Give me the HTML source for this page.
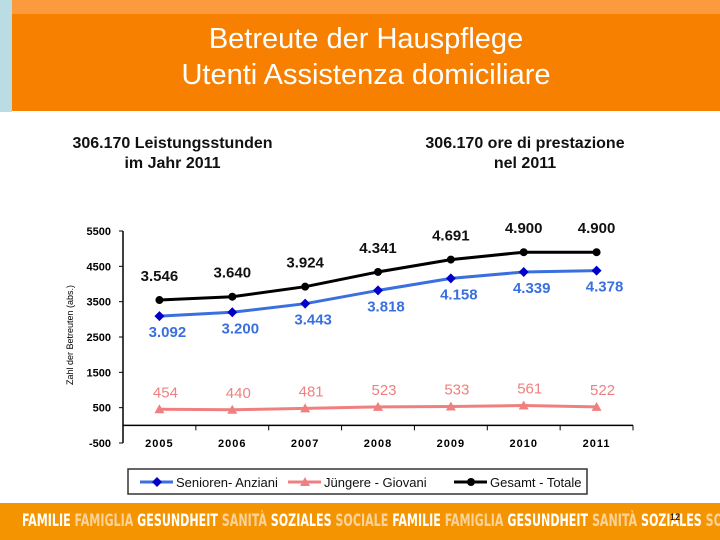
<!DOCTYPE html>
<html><head><meta charset="utf-8"><style>
body{margin:0;width:720px;height:540px;overflow:hidden;background:#fff;font-family:"Liberation Sans",Arial,sans-serif;position:relative}
#side{position:absolute;left:0;top:0;width:12px;height:112px;background:#b9dde2}
#topband{position:absolute;left:12px;top:0;width:708px;height:14px;background:#fb9b3d}
#title{position:absolute;left:12px;top:14px;width:708px;height:97px;background:#f78000;color:#fff;font-size:29px;text-align:center;line-height:36px;padding-top:7px;box-sizing:border-box}
.sub{position:absolute;top:134px;font-size:16px;font-weight:bold;text-align:center;line-height:20px;color:#111}
#footer{position:absolute;left:0;top:503px;width:720px;height:37px;background:#f39400;overflow:hidden}
#ftext{position:absolute;left:22px;top:0;font-family:"DejaVu Sans Condensed","Liberation Sans Narrow",sans-serif;font-weight:bold;font-size:17px;line-height:37px;white-space:nowrap;transform:scaleX(0.725);transform-origin:left center}
#ftext .w{color:#fff}#ftext .l{color:#fbd39a}
</style></head><body>
<div id="side"></div>
<div id="topband"></div>
<div id="title">Betreute der Hauspflege<br>Utenti Assistenza domiciliare</div>
<div class="sub" style="left:50px;width:245px">306.170 Leistungsstunden<br>im Jahr 2011</div>
<div class="sub" style="left:400px;width:250px">306.170 ore di prestazione<br>nel 2011</div>
<svg id="chart" width="720" height="540" style="position:absolute;left:0;top:0"></svg>
<div id="footer"><div id="ftext"><span class="w">FAMILIE</span> <span class="l">FAMIGLIA</span> <span class="w">GESUNDHEIT</span> <span class="l">SANITÀ</span> <span class="w">SOZIALES</span> <span class="l">SOCIALE</span> <span class="w">FAMILIE</span> <span class="l">FAMIGLIA</span> <span class="w">GESUNDHEIT</span> <span class="l">SANITÀ</span> <span class="w">SOZIALES</span> <span class="l">SOCIALE</span></div></div>
<div style="position:absolute;left:670px;top:512px;font-size:9px;color:#000">12</div>
<script>
const years=["2005","2006","2007","2008","2009","2010","2011"];
const senioren=[3092,3200,3443,3818,4158,4339,4378];
const giovani=[454,440,481,523,533,561,522];
const totale=[3546,3640,3924,4341,4691,4900,4900];
const senLabels=["3.092","3.200","3.443","3.818","4.158","4.339","4.378"];
const totLabels=["3.546","3.640","3.924","4.341","4.691","4.900","4.900"];
const yTicks=[5500,4500,3500,2500,1500,500,-500];
const NS="http://www.w3.org/2000/svg";
const svg=document.getElementById('chart');
const x0=123,x1=633,yTop=231,yBot=443,vMin=-500,vMax=5500;
const step=(x1-x0)/years.length;
const X=i=>x0+step*(i+0.5);
const Y=v=>yBot-(v-vMin)/(vMax-vMin)*(yBot-yTop);
function el(t,a){const e=document.createElementNS(NS,t);for(const k in a)e.setAttribute(k,a[k]);svg.appendChild(e);return e;}
function txt(s,x,y,a){const e=el('text',Object.assign({x:x,y:y,'text-anchor':'middle','font-family':'Liberation Sans, Arial, sans-serif'},a));e.textContent=s;return e;}
let ax=el('line',{x1:x0,y1:yTop,x2:x0,y2:yBot,stroke:'#000','stroke-width':1.5});

let xa=el('line',{x1:x0,y1:Y(0),x2:x1,y2:Y(0),stroke:'#000','stroke-width':1.5});

yTicks.forEach(v=>{el('line',{x1:x0-4,y1:Y(v),x2:x0,y2:Y(v),stroke:'#000'});
 let t=txt(String(v),x0-12,Y(v)+4,{'text-anchor':'end','font-size':11,'font-weight':'bold'});
 });
for(let i=1;i<=years.length;i++)el('line',{x1:x0+step*i,y1:Y(0),x2:x0+step*i,y2:Y(0)+5,stroke:'#000'});
years.forEach((yr,i)=>{let t=txt(yr,X(i),447,{'font-size':11,'font-weight':'bold','letter-spacing':'1'});
 });
let yt=txt('Zahl der Betreuten (abs.)',0,0,{'font-size':9,transform:'translate(73,335) rotate(-90)'});

function line(vals,color,name){let d=vals.map((v,i)=>(i?'L':'M')+X(i)+' '+Y(v)).join(' ');
 let p=el('path',{d:d,fill:'none',stroke:color,'stroke-width':3});
 }
line(totale,'#000','line-totale');line(senioren,'#3a6fdf','line-senioren');line(giovani,'#f08080','line-giovani');
totale.forEach((v,i)=>{let c=el('circle',{cx:X(i),cy:Y(v),r:4,fill:'#000'});
 
 let t=txt(totLabels[i],X(i),Y(v)-19,{'font-size':15,'font-weight':'bold',fill:'#111'});
 });
senioren.forEach((v,i)=>{let x=X(i),y=Y(v);let p=el('polygon',{points:`${x},${y-5} ${x+5},${y} ${x},${y+5} ${x-5},${y}`,fill:'#0000c8'});
 
 let t=txt(senLabels[i],x+8,y+21,{'font-size':15,'font-weight':'bold',fill:'#3a6fdf'});
 });
giovani.forEach((v,i)=>{let x=X(i),y=Y(v);let p=el('polygon',{points:`${x},${y-5} ${x+5},${y+4} ${x-5},${y+4}`,fill:'#f08080'});
 
 let t=txt(String(v),x+6,y-12,{'font-size':15,fill:'#f08080'});
 });
let lg=el('rect',{x:128,y:469,width:459,height:25,fill:'#fff',stroke:'#333','stroke-width':1.5});

const leg=[['Senioren- Anziani','#3a6fdf','d',140],['Jüngere - Giovani','#f08080','t',288],['Gesamt - Totale','#000','c',454]];
leg.forEach(([n,c,m,x])=>{el('line',{x1:x,y1:482,x2:x+33,y2:482,stroke:c,'stroke-width':3});const cx=x+17;
 if(m=='d')el('polygon',{points:`${cx},477 ${cx+5},482 ${cx},487 ${cx-5},482`,fill:'#0000c8'});
 else if(m=='t')el('polygon',{points:`${cx},477 ${cx+5},486 ${cx-5},486`,fill:c});
 else el('circle',{cx:cx,cy:482,r:4,fill:c});
 let t=txt(n,x+36,487,{'text-anchor':'start','font-size':13,fill:'#111'});
 });
</script>
</body></html>
